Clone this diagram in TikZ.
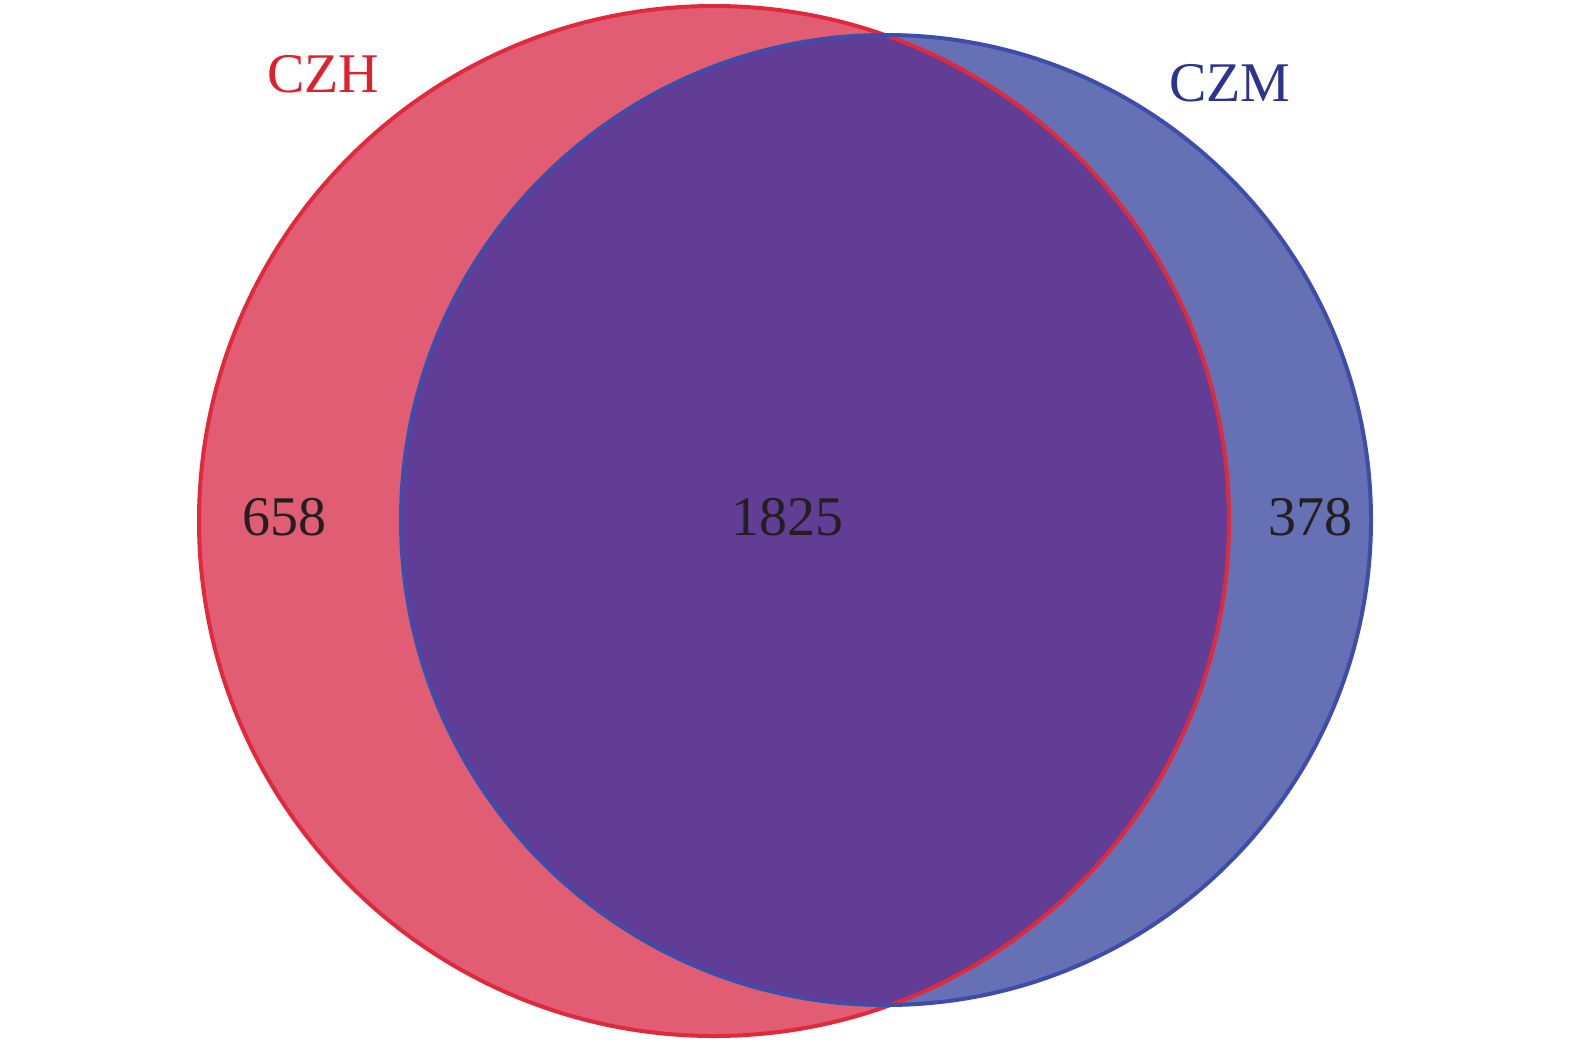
\documentclass[tikz,border=0pt]{standalone}
\usepackage{fontspec}
\setmainfont{Liberation Serif}
\definecolor{redfill}{HTML}{E05D74}
\definecolor{rededge}{HTML}{E02A3C}
\definecolor{bluefill}{HTML}{6670B4}
\definecolor{blueedge}{HTML}{3F4DAA}
\definecolor{overlap}{HTML}{613D96}
\definecolor{redtext}{HTML}{E0202A}
\definecolor{bluetext}{HTML}{2B3590}
\definecolor{numtext}{HTML}{231F20}
\begin{document}
\begin{tikzpicture}[x=1pt,y=-1pt,
  lbl/.style={anchor=base,inner sep=0pt,font=\fontsize{56}{60}\selectfont},
  num/.style={lbl,text=numtext}]
\useasboundingbox (0,0) rectangle (1575,1042);
\coordinate (rc) at (714,521);
\coordinate (bc) at (886,520);
\fill[redfill] (rc) circle[radius=515];
\fill[bluefill] (bc) circle[radius=485];
\begin{scope}
  \clip (rc) circle[radius=515];
  \fill[overlap] (bc) circle[radius=485];
\end{scope}
\draw[rededge,line width=4pt] (rc) circle[radius=515];
\draw[blueedge,line width=4pt] (bc) circle[radius=485];
\node[lbl,text=redtext] (czh) at (323,92) {CZH};
\node[lbl,text=bluetext] (czm) at (1230,101) {CZM};
\node[num] (n658) at (284,535) {658};
\node[num] (n1825) at (787,535) {1825};
\node[num] (n378) at (1310,535) {378};
\end{tikzpicture}
\end{document}
